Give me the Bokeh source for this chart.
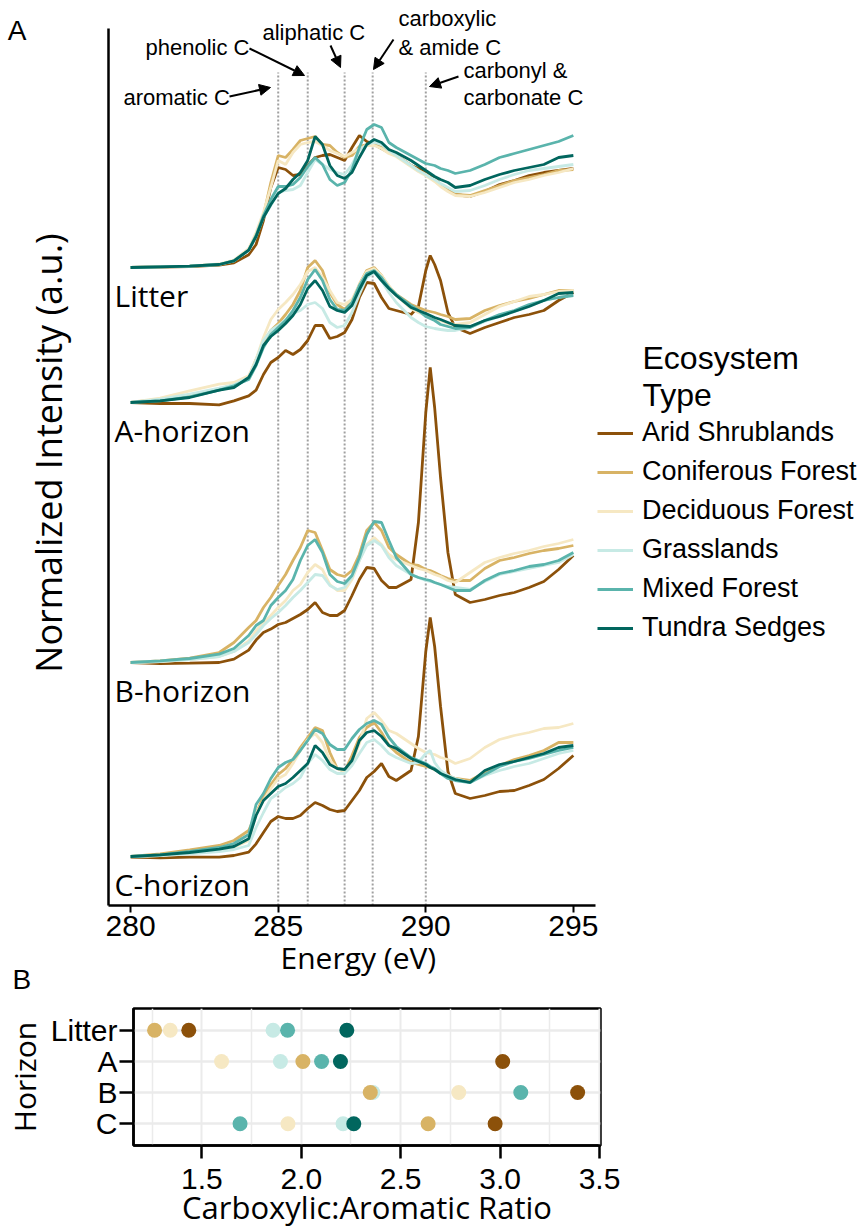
import math
from bokeh.plotting import figure
from bokeh.models import (Range1d, FactorRange, Label, Arrow, NormalHead, Legend, LegendItem,
                          FixedTicker, NumeralTickFormatter, LinearAxis, Title)
from bokeh.embed import file_html
from bokeh.resources import INLINE

# ------------------------------------------------------------------ data
energy = [280, 281, 282, 283, 283.5, 284, 284.25, 284.5, 284.75, 285, 285.25, 285.5, 285.75,
          286, 286.25, 286.5, 286.75, 287, 287.25, 287.5, 287.75, 288, 288.25, 288.5, 288.75,
          289, 289.5, 289.75, 290, 290.15, 290.3, 290.5, 290.75, 291, 291.5, 292, 292.5, 293,
          293.5, 294, 294.5, 295]

ecosystems = ["Arid Shrublands", "Coniferous Forest", "Deciduous Forest",
              "Grasslands", "Mixed Forest", "Tundra Sedges"]
colors = ["#8C510A", "#D8B365", "#F6E8C3", "#C7EAE5", "#5AB4AC", "#01665E"]

horizons = ["Litter", "A-horizon", "B-horizon", "C-horizon"]
offsets = [638, 503, 243, 49]   # vertical stacking offset of each horizon (a.u.)

litter_arid = [0, 0.5, 1, 2.3, 4.7, 12.7, 23, 47, 80, 100, 98, 92, 93, 102, 110, 112, 113, 110, 107, 120, 132, 126, 123, 119, 115, 112, 102, 99, 95, 93, 90, 83, 77, 73, 71, 76, 83, 87, 92, 95, 97, 99]
litter_conif = [0, 0.7, 1.3, 3, 6.7, 17.3, 32, 52, 85, 112, 110, 118, 127, 129, 131, 123, 122, 115, 110, 112, 121, 123, 123, 120, 115, 112, 102, 97, 93, 90, 87, 82, 77, 73, 72, 77, 82, 87, 90, 93, 97, 98]
litter_decid = [0, 0.7, 1.3, 3.5, 7.5, 19, 35, 55, 80, 107, 103, 115, 123, 125, 126, 122, 117, 114, 111, 115, 119, 122, 122, 119, 114, 111, 101, 96, 92, 89, 86, 81, 76, 72, 71, 75, 80, 85, 88, 92, 95, 99]
litter_grass = [0, 0.7, 1.3, 3, 6.7, 17, 31, 50, 62, 75, 77, 78, 82, 95, 108, 103, 98, 95, 93, 103, 117, 123, 125, 123, 117, 112, 102, 97, 93, 90, 88, 84, 80, 76, 77, 82, 88, 93, 97, 99, 101, 103]
litter_mixed = [0, 0.7, 1.3, 3, 6.7, 17.3, 32, 52, 68, 81, 81, 83, 90, 101, 110, 103, 88, 82, 85, 98, 120, 138, 143, 140, 125, 120, 112, 108, 104, 103, 102, 99, 97, 94, 97, 103, 110, 114, 118, 122, 126, 132]
litter_tundra = [0, 0.7, 1.3, 3, 6.7, 17.3, 31, 50, 63, 74, 79, 88, 95, 107, 131, 123, 102, 92, 89, 95, 110, 123, 128, 125, 118, 115, 107, 102, 97, 94, 91, 88, 85, 80, 82, 88, 93, 97, 100, 103, 110, 112]

a_arid = [0, -1, -1, -2.3, 1.7, 6.7, 12.3, 28, 40, 45, 52, 48, 53, 62, 77, 77, 64, 66, 70, 83, 105, 120, 119, 105, 94, 92, 88, 96, 132, 147, 138, 122, 90, 75, 69, 75, 80, 85, 88, 92, 102, 110]
a_conif = [0, 3.3, 7.7, 13.3, 17.7, 25, 43, 60, 72, 79, 88, 98, 112, 135, 142, 132, 110, 98, 93, 101, 118, 132, 135, 127, 116, 108, 98, 95, 92, 91, 90, 88, 86, 83, 84, 92, 97, 101, 104, 108, 112, 112]
a_decid = [0, 4.3, 11.7, 18.3, 20, 26.7, 43, 65, 83, 93, 100, 108, 118, 131, 135, 125, 112, 100, 98, 103, 118, 131, 134, 127, 117, 107, 94, 90, 87, 85, 83, 82, 79, 78, 80, 88, 96, 101, 106, 108, 111, 112]
a_grass = [0, 3.3, 8.3, 14.3, 17.7, 25, 42, 62, 72, 77, 83, 89, 92, 98, 100, 94, 80, 75, 77, 90, 108, 125, 130, 122, 110, 100, 85, 80, 76, 75, 74, 73, 72, 72, 75, 81, 86, 91, 97, 102, 105, 108]
a_mixed = [0, 1.7, 5.7, 12.3, 16.7, 23, 37, 55, 68, 75, 82, 92, 105, 123, 133, 122, 103, 93, 92, 100, 117, 129, 132, 125, 115, 108, 97, 92, 86, 84, 82, 78, 76, 74, 75, 82, 88, 92, 98, 102, 105, 107]
a_tundra = [0, 1.7, 5, 12.3, 15, 25, 38, 57, 66, 72, 79, 87, 98, 114, 122, 112, 96, 92, 90, 97, 113, 127, 131, 122, 114, 107, 95, 92, 89, 87, 85, 83, 80, 77, 76, 82, 86, 91, 96, 102, 109, 110]

b_arid = [0, -1, -0.7, 0, 3.4, 12.4, 22.4, 30, 33.4, 38, 40, 44, 48, 53, 60, 50, 47, 47, 52, 67, 83, 95, 94, 82, 75, 75, 83, 140, 250, 295, 255, 185, 110, 68, 60, 63, 67, 70, 75, 81, 93, 107]
b_conif = [0, 1.7, 4.3, 10, 20, 35, 42, 55, 65, 77, 88, 102, 115, 132, 130, 112, 93, 88, 86, 92, 108, 132, 140, 132, 115, 108, 98, 97, 93, 92, 90, 87, 84, 82, 82, 94, 102, 105, 109, 112, 114, 117]
b_decid = [0, 1, 3, 6, 11, 21.7, 31.7, 40, 47, 55, 62, 72, 78, 90, 98, 93, 78, 72, 72, 83, 102, 118, 125, 118, 108, 103, 97, 94, 92, 90, 88, 86, 82, 80, 90, 100, 105, 109, 112, 116, 119, 123]
b_grass = [0, 1, 3, 6, 11, 20, 28, 37, 44, 50, 57, 65, 72, 80, 88, 87, 77, 73, 75, 85, 102, 117, 122, 117, 105, 97, 88, 85, 82, 81, 80, 78, 76, 75, 73, 81, 88, 91, 94, 97, 100, 108]
b_mixed = [0, 1.7, 4, 8.4, 14, 27, 37, 42, 57, 65, 72, 83, 102, 117, 123, 110, 88, 81, 79, 87, 105, 128, 141, 140, 122, 105, 88, 85, 83, 82, 80, 78, 75, 72, 72, 82, 89, 92, 96, 98, 102, 110]

c_arid = [-0.7, -1.3, -0.7, -0.7, 1, 4.3, 12.7, 24, 35, 40, 38, 38, 41, 48, 54, 51, 47, 45, 46, 56, 66, 79, 85, 93, 80, 76, 86, 120, 205, 239, 210, 150, 85, 63, 58, 61, 65, 66, 71, 77, 88, 101]
c_conif = [0, 2.7, 6.7, 11, 16, 26, 43, 60, 72, 82, 88, 97, 109, 119, 129, 126, 104, 88, 85, 101, 119, 129, 134, 124, 111, 104, 94, 92, 90, 89, 87, 84, 81, 78, 76, 84, 91, 97, 101, 106, 114, 114]
c_decid = [0, 1, 4.3, 8, 9.3, 16, 43, 56, 68, 78, 82, 93, 106, 117, 123, 114, 96, 88, 85, 94, 113, 138, 144, 136, 126, 123, 113, 108, 104, 103, 102, 99, 97, 93, 98, 109, 117, 121, 124, 128, 129, 133]
c_grass = [0, 1, 2.7, 5, 7, 11, 29, 44, 58, 63, 69, 73, 79, 93, 102, 96, 87, 83, 83, 91, 103, 114, 117, 111, 103, 99, 93, 94, 103, 106, 94, 86, 81, 78, 74, 81, 86, 90, 93, 98, 103, 106]
c_mixed = [0, 1.7, 5, 9, 13, 22, 52, 63, 78, 89, 94, 97, 106, 116, 127, 123, 112, 107, 107, 118, 127, 133, 136, 132, 119, 110, 99, 96, 93, 90, 88, 83, 78, 76, 74, 82, 90, 95, 98, 102, 106, 109]
c_tundra = [0, 1.7, 4, 7.3, 10, 17.7, 41, 56, 63, 70, 73, 79, 86, 93, 111, 104, 92, 88, 87, 96, 116, 124, 126, 120, 111, 108, 98, 95, 92, 89, 87, 83, 80, 77, 74, 86, 92, 95, 99, 103, 109, 111]

spectra = {
    "Litter": [litter_arid, litter_conif, litter_decid, litter_grass, litter_mixed, litter_tundra],
    "A-horizon": [a_arid, a_conif, a_decid, a_grass, a_mixed, a_tundra],
    "B-horizon": [b_arid, b_conif, b_decid, b_grass, b_mixed, None],
    "C-horizon": [c_arid, c_conif, c_decid, c_grass, c_mixed, c_tundra],
}

feature_energy = [285.0, 286.0, 287.25, 288.2, 290.0]
energy_ticks = [280, 285, 290, 295]

# panel B: carboxylic:aromatic ratio
ratio_levels = ["Litter", "A", "B", "C"]
ratio_arid = [1.434, 3.013, 3.39, 2.975]
ratio_conif = [1.262, 2.008, 2.347, 2.638]
ratio_decid = [1.341, 1.599, 2.792, 1.933]
ratio_grass = [1.858, 1.895, 2.36, 2.21]
ratio_mixed = [1.931, 2.102, 3.104, 1.692]
ratio_tundra = [2.229, 2.197, float("nan"), 2.264]
ratio_ticks = [1.5, 2.0, 2.5, 3.0, 3.5]
ratio_minor = [1.25, 1.75, 2.25, 2.75, 3.25]

# ------------------------------------------------------------------ panel A
XR = (279.25, 295.75)                 # plotted energy span
FRAME_L, AXIS_R, AXIS_T, FRAME_B = 108, 595, 28, 905
PX_EV = (AXIS_R - FRAME_L) / (XR[1] - XR[0])
HA = 995


def ax(px):
    return XR[0] + (px - FRAME_L) / PX_EV


def ay(py):
    return FRAME_B - py


# the frame reaches the right and top edges so that notes and legend are not clipped
pA = figure(width=864, height=HA, x_range=Range1d(XR[0], ax(864)), y_range=Range1d(0, FRAME_B),
            output_backend="svg", toolbar_location=None,
            min_border_left=FRAME_L, min_border_right=0,
            min_border_top=0, min_border_bottom=HA - FRAME_B)
pA.outline_line_color = None
pA.grid.grid_line_color = None

for e in feature_energy:
    pA.segment(x0=[e], y0=[0], x1=[e], y1=[ay(72)], line_color="#A0A0A0",
               line_width=2, line_dash="2 2")

legend_items = []
for h, off in zip(horizons, offsets):
    for i, (eco, col) in enumerate(zip(ecosystems, colors)):
        vals = spectra[h][i]
        if vals is None:
            continue
        r = pA.line(energy, [off + v for v in vals], line_color=col, line_width=2.8)
        if h == "Litter":
            legend_items.append(LegendItem(label=eco, renderers=[r]))

for h, off in zip(horizons, offsets):
    pA.add_layout(Label(x=ax(114), y=off - 28, text=h, text_font="Open Sans",
                        text_font_size="30px", text_baseline="middle", text_color="black"))

ann_font = dict(text_font="Liberation Sans", text_font_size="22px",
                text_baseline="middle", text_color="black")
for txt, px, py in [("aromatic C", 123, 97), ("phenolic C", 145, 47), ("aliphatic C", 262, 32),
                    ("carboxylic", 398, 18), ("& amide C", 398, 47),
                    ("carbonyl &", 463, 70), ("carbonate C", 463, 97)]:
    pA.add_layout(Label(x=ax(px), y=ay(py), text=txt, **ann_font))

for (x0, y0, x1, y1) in [(229, 96, 270, 87), (249, 48, 304, 75), (330, 45, 340, 67),
                         (393, 39, 373, 69), (458, 76, 429, 86)]:
    pA.add_layout(Arrow(end=NormalHead(size=11, fill_color="black", line_color="black"),
                        x_start=ax(x0), y_start=ay(y0), x_end=ax(x1), y_end=ay(y1),
                        line_color="black", line_width=2))

legend_title_font = dict(text_font="Liberation Sans", text_font_size="32px",
                         text_baseline="middle", text_color="black")
pA.add_layout(Label(x=ax(642), y=ay(357), text="Ecosystem", **legend_title_font))
pA.add_layout(Label(x=ax(642), y=ay(394), text="Type", **legend_title_font))

legend = Legend(items=legend_items, location=(489, 262), orientation="vertical",
                glyph_width=36, glyph_height=30, label_height=30, label_standoff=9,
                spacing=8, padding=0, margin=0, border_line_alpha=0,
                background_fill_alpha=0, label_text_font="Liberation Sans",
                label_text_font_size="27px", label_text_color="black")
pA.add_layout(legend)

xa = pA.xaxis[0]
xa.bounds = XR
xa.ticker = FixedTicker(ticks=energy_ticks)
xa.minor_tick_line_color = None
xa.major_tick_out = 7
xa.major_tick_in = 0
xa.major_tick_line_width = 2
xa.axis_line_width = 2.5
xa.major_label_text_font = "Liberation Sans"
xa.major_label_text_font_size = "30px"
xa.major_label_text_color = "black"
xa.major_label_standoff = 3

# x title centred under the energy axis (the frame itself is wider)
x_title = Title(text="Energy (eV)", align="left", offset=172,
                text_font="Open Sans", text_font_size="30px", text_font_style="normal",
                text_color="black", standoff=-7)
pA.add_layout(x_title, "below")

ya = pA.yaxis[0]
ya.bounds = (0, ay(AXIS_T))
ya.ticker = FixedTicker(ticks=[])
ya.major_tick_line_color = None
ya.minor_tick_line_color = None
ya.major_tick_out = 0
ya.major_label_standoff = 0
ya.major_label_text_font_size = "0px"
ya.axis_line_width = 2.5
ya.axis_label = "Normalized Intensity (a.u.)"
ya.axis_label_text_font = "Open Sans"
ya.axis_label_text_font_size = "36px"
ya.axis_label_text_font_style = "normal"
ya.axis_label_text_color = "black"
ya.axis_label_standoff = 36

# panel tag "A" carried by an outer, line-less left axis
tag_y = ay(30)
tagA = LinearAxis(ticker=FixedTicker(ticks=[tag_y]), major_label_overrides={tag_y: "A"},
                  axis_line_color=None, major_tick_line_color=None,
                  minor_tick_line_color=None, major_tick_out=0, major_tick_in=0,
                  major_label_standoff=-6, major_label_text_font="Liberation Sans",
                  major_label_text_font_size="28px", major_label_text_color="black")
pA.add_layout(tagA, "left")

# panel tag "B" as a left-aligned title under panel A
tagB = Title(text="B", align="left", offset=-96, text_font="Liberation Sans",
             text_font_size="28px", text_font_style="normal", text_color="black",
             standoff=-26)
pA.add_layout(tagB, "below")

# ------------------------------------------------------------------ panel B
BXR = (1.156, 3.505)
B_L, B_R = 129, 600
HB = 1230 - HA
pB = figure(width=864, height=HB, x_range=Range1d(*BXR),
            y_range=FactorRange(factors=ratio_levels[::-1], range_padding=0.2,
                                range_padding_units="absolute"),
            output_backend="svg", toolbar_location=None,
            min_border_left=B_L, min_border_right=864 - B_R, min_border_top=1008 - HA,
            min_border_bottom=80)
pB.outline_line_color = "black"
pB.outline_line_width = 2.5
pB.outline_line_alpha = 1

pB.xaxis.ticker = FixedTicker(ticks=ratio_ticks, minor_ticks=ratio_minor)
pB.xgrid.grid_line_color = "#EBEBEB"
pB.xgrid.grid_line_width = 2
pB.xgrid.minor_grid_line_color = "#EBEBEB"
pB.xgrid.minor_grid_line_width = 1.5
pB.ygrid.grid_line_color = "#EBEBEB"
pB.ygrid.grid_line_width = 2.5

ratio_series = [ratio_arid, ratio_conif, ratio_decid, ratio_grass, ratio_mixed, ratio_tundra]
draw_order = [3, 0, 1, 2, 4, 5]
for i in draw_order:
    pB.scatter(x=ratio_series[i], y=ratio_levels, size=15, fill_color=colors[i],
               line_color=colors[i], line_width=0)

bx = pB.xaxis[0]
bx.minor_tick_line_color = None
bx.major_tick_out = 13
bx.major_tick_in = 0
bx.major_tick_line_width = 2.5
bx.axis_line_width = 2.5
bx.formatter = NumeralTickFormatter(format="0.0")
bx.major_label_text_font = "Liberation Sans"
bx.major_label_text_font_size = "30px"
bx.major_label_text_color = "black"
bx.major_label_standoff = 10
bx.axis_label = "Carboxylic:Aromatic Ratio"
bx.axis_label_text_font = "Open Sans"
bx.axis_label_text_font_size = "31px"
bx.axis_label_text_font_style = "normal"
bx.axis_label_text_color = "black"
bx.axis_label_standoff = -6

by = pB.yaxis[0]
by.major_tick_out = 14
by.major_tick_in = 0
by.major_tick_line_width = 2.5
by.axis_line_width = 2.5
by.major_label_text_font = "Liberation Sans"
by.major_label_text_font_size = "30px"
by.major_label_text_color = "black"
by.major_label_standoff = 2
by.axis_label = "Horizon"
by.axis_label_text_font = "Open Sans"
by.axis_label_text_font_size = "30px"
by.axis_label_text_font_style = "normal"
by.axis_label_text_color = "black"
by.axis_label_standoff = 3

open("out.html", "w").write(file_html([pA, pB], INLINE))
